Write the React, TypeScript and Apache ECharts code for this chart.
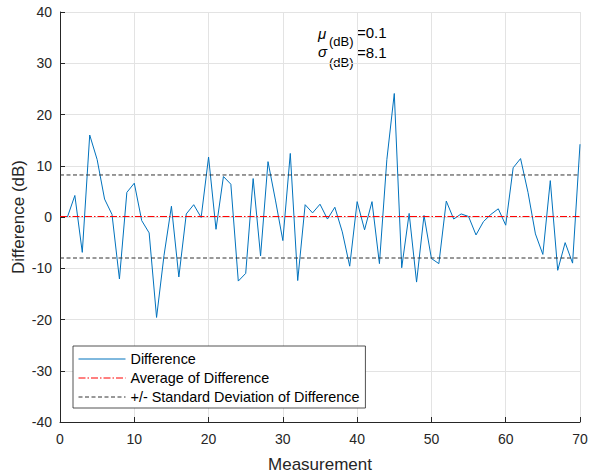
import React, { useEffect, useRef } from "react";
import * as echarts from "echarts";

const differences: number[] = [
  0.0, 4.2, -6.9, 16.0, 11.2, 3.5, 0.5, -12.1, 4.8, 6.6,
  -0.7, -3.1, -19.6, -7.5, 2.1, -11.7, 0.6, 2.4, -0.1, 11.7,
  -2.4, 7.9, 6.4, -12.5, -11.0, 7.5, -7.6, 10.8, 3.3, -4.6,
  12.4, -12.4, 2.4, 0.8, 2.5, -0.4, 1.9, -2.9, -9.6, 3.0,
  -2.5, 3.0, -9.1, 11.2, 24.1, -9.9, 0.7, -12.7, 0.3, -8.1,
  -9.1, 3.1, -0.4, 0.6, 0.1, -3.5, -0.9, 0.5, 1.6, -1.6,
  9.6, 11.4, 4.8, -3.3, -7.3, 7.1, -10.4, -5.0, -9.0, 14.2,
];
const meanDiff = 0.1;
const stdDiff = 8.1;
const xRange = [0, 70];
const yRange = [-40, 40];
const legendLabels = [
  "Difference",
  "Average of Difference",
  "+/- Standard Deviation of Difference",
];

const FONT = "'Liberation Sans', Arial, Helvetica, sans-serif";
const AXIS_COLOR = "#262626";
const GRID_COLOR = "#e3e3e3";
const RED = "#ff0000";
const BLUE = "#0072BD";
const DARK = "#333333";

export default function App() {
  const ref = useRef<HTMLDivElement>(null);
  useEffect(() => {
    if (!ref.current) return;
    const chart = echarts.init(ref.current, null, { renderer: "svg" });
    const diffData = differences.map((v, i) => [i + 1, v]);
    const lineAt = (y: number) => [
      [xRange[0], y],
      [xRange[1], y],
    ];
    const option: any = {
      animation: false,
      backgroundColor: "#ffffff",
      textStyle: { fontFamily: FONT },
      grid: {
        left: 60,
        right: 9,
        top: 12,
        bottom: 52,
        containLabel: false,
        outerBoundsMode: "none",
      },
      legend: {
        show: true,
        orient: "vertical",
        left: 73,
        top: 346,
        padding: [6, 6, 4, 5],
        itemWidth: 47,
        itemHeight: 14,
        itemGap: 5,
        borderColor: "#262626",
        borderWidth: 0.8,
        borderRadius: 0,
        backgroundColor: "#ffffff",
        selectedMode: false,
        itemStyle: { opacity: 0 },
        lineStyle: { width: 1 },
        textStyle: { fontSize: 14.4, color: "#000", fontFamily: FONT },
        data: legendLabels,
        z: 10,
      },
      xAxis: {
        type: "value",
        min: xRange[0],
        max: xRange[1],
        interval: 10,
        name: "Measurement",
        nameLocation: "middle",
        nameGap: 34,
        nameMoveOverlap: false,
        nameTextStyle: { fontSize: 17, color: AXIS_COLOR, fontFamily: FONT },
        axisLine: { show: true, onZero: false, lineStyle: { color: AXIS_COLOR, width: 1 } },
        axisTick: { show: true, inside: true, length: 5, lineStyle: { color: AXIS_COLOR } },
        axisLabel: { fontSize: 14, color: AXIS_COLOR, margin: 10, fontFamily: FONT },
        splitLine: { show: true, lineStyle: { color: GRID_COLOR, width: 1 } },
      },
      yAxis: {
        type: "value",
        min: yRange[0],
        max: yRange[1],
        interval: 10,
        name: "Difference (dB)",
        nameLocation: "middle",
        nameGap: 33,
        nameMoveOverlap: false,
        nameTextStyle: { fontSize: 17, color: AXIS_COLOR, fontFamily: FONT },
        axisLine: { show: true, onZero: false, lineStyle: { color: AXIS_COLOR, width: 1 } },
        axisTick: { show: true, inside: true, length: 5, lineStyle: { color: AXIS_COLOR } },
        axisLabel: { fontSize: 14, color: AXIS_COLOR, margin: 8, fontFamily: FONT },
        splitLine: { show: true, lineStyle: { color: GRID_COLOR, width: 1 } },
      },
      series: [
        {
          name: legendLabels[0],
          type: "line",
          data: diffData,
          symbol: "none",
          showSymbol: false,
          color: BLUE,
          lineStyle: { color: BLUE, width: 1 },
          z: 3,
        },
        {
          name: legendLabels[1],
          type: "line",
          data: lineAt(meanDiff),
          symbol: "none",
          showSymbol: false,
          color: RED,
          lineStyle: { color: RED, width: 1, type: [7, 2, 1.5, 2] },
          z: 4,
        },
        {
          name: legendLabels[2],
          type: "line",
          data: lineAt(meanDiff + stdDiff),
          symbol: "none",
          showSymbol: false,
          color: DARK,
          lineStyle: { color: DARK, width: 1, type: [4, 2.5] },
          z: 4,
        },
        {
          name: legendLabels[2],
          type: "line",
          data: lineAt(meanDiff - stdDiff),
          symbol: "none",
          showSymbol: false,
          color: DARK,
          lineStyle: { color: DARK, width: 1, type: [4, 2.5] },
          z: 4,
        },
      ],
      graphic: [
        { type: "text", left: 318, top: 26, style: { text: "μ", font: `italic 15px ${FONT}`, fill: "#000" } },
        { type: "text", left: 329, top: 35, style: { text: "(dB)", font: `13px ${FONT}`, fill: "#000" } },
        { type: "text", left: 357, top: 25, style: { text: "=0.1", font: `15px ${FONT}`, fill: "#000" } },
        { type: "text", left: 318, top: 44, style: { text: "σ", font: `italic 15px ${FONT}`, fill: "#000" } },
        { type: "text", left: 329, top: 56, style: { text: "(dB)", font: `13px ${FONT}`, fill: "#000" } },
        { type: "text", left: 357, top: 45, style: { text: "=8.1", font: `15px ${FONT}`, fill: "#000" } },
      ],
    };
    chart.setOption(option);
    return () => chart.dispose();
  }, []);
  return (
    <div
      ref={ref}
      style={{ position: "fixed", left: 0, top: 0, width: 589, height: 474, background: "#fff" }}
    />
  );
}
